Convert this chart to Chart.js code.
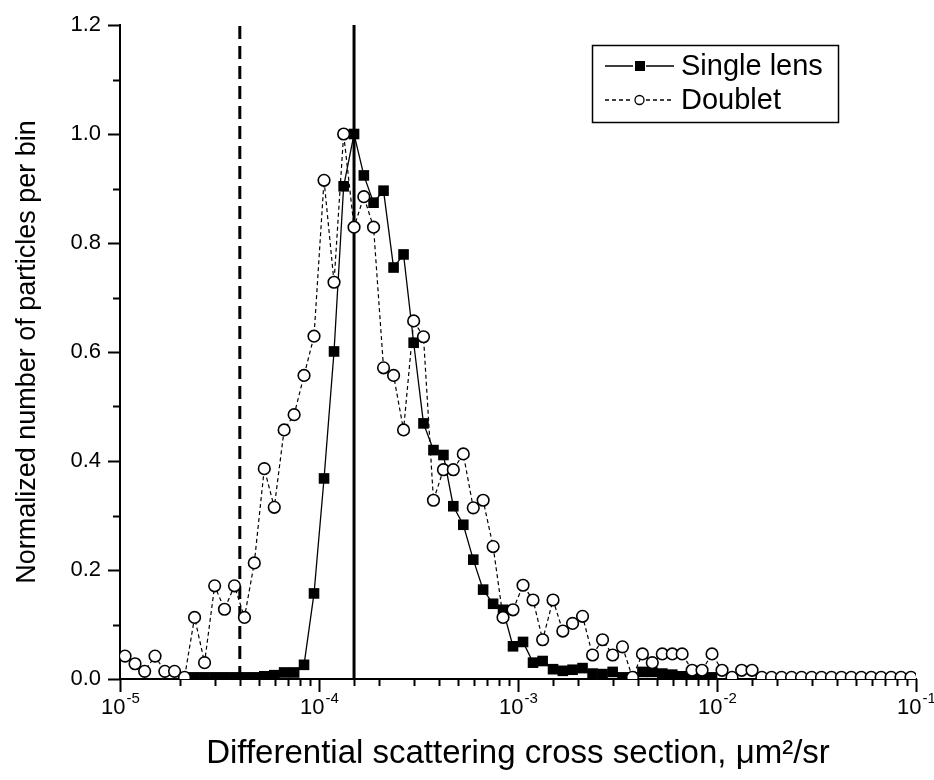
<!DOCTYPE html>
<html>
<head>
<meta charset="utf-8">
<script src="https://cdn.jsdelivr.net/npm/chart.js@4.4.1/dist/chart.umd.min.js"></script>
<style>
  html, body { margin: 0; padding: 0; background: #fff; }
  #plot { display: block; }
</style>
</head>
<body>
<canvas id="plot" width="934" height="780"></canvas>
<script>
// bin centres (um^2/sr), 20 bins per decade
var binCentres = [
    1.06e-5, 1.19e-5, 1.33e-5, 1.50e-5, 1.68e-5, 1.88e-5, 2.11e-5, 2.37e-5, 2.66e-5, 2.99e-5,
    3.35e-5, 3.76e-5, 4.22e-5, 4.73e-5, 5.31e-5, 5.96e-5, 6.68e-5, 7.50e-5, 8.41e-5, 9.44e-5,
    1.06e-4, 1.19e-4, 1.33e-4, 1.50e-4, 1.68e-4, 1.88e-4, 2.11e-4, 2.37e-4, 2.66e-4, 2.99e-4,
    3.35e-4, 3.76e-4, 4.22e-4, 4.73e-4, 5.31e-4, 5.96e-4, 6.68e-4, 7.50e-4, 8.41e-4, 9.44e-4,
    1.06e-3, 1.19e-3, 1.33e-3, 1.50e-3, 1.68e-3, 1.88e-3, 2.11e-3, 2.37e-3, 2.66e-3, 2.99e-3,
    3.35e-3, 3.76e-3, 4.22e-3, 4.73e-3, 5.31e-3, 5.96e-3, 6.68e-3, 7.50e-3, 8.41e-3, 9.44e-3,
    1.06e-2, 1.19e-2, 1.33e-2, 1.50e-2, 1.68e-2, 1.88e-2, 2.11e-2, 2.37e-2, 2.66e-2, 2.99e-2,
    3.35e-2, 3.76e-2, 4.22e-2, 4.73e-2, 5.31e-2, 5.96e-2, 6.68e-2, 7.50e-2, 8.41e-2, 9.44e-2
];

var singleLens = [
    null, null, null, null, null, null, 0.003, 0.003, 0.003, 0.003,
    0.003, 0.003, 0.003, 0.003, 0.005, 0.007, 0.012, 0.012, 0.026, 0.157,
    0.368, 0.601, 0.904, 1.000, 0.924, 0.874, 0.896, 0.755, 0.779, 0.617,
    0.469, 0.420, 0.411, 0.317, 0.283, 0.219, 0.164, 0.138, 0.127, 0.060,
    0.068, 0.030, 0.033, 0.018, 0.015, 0.017, 0.020, 0.010, 0.009, 0.013,
    0.003, 0.003, 0.013, 0.013, 0.010, 0.008, 0.005, 0.003, 0.003, 0.003,
    null, null, null, null, null, null, null, null, null, null,
    null, null, null, null, null, null, null, null, null, null
];

var doublet = [
    0.042, 0.028, 0.014, 0.042, 0.014, 0.014, 0.003, 0.113, 0.030, 0.171,
    0.128, 0.171, 0.113, 0.213, 0.386, 0.315, 0.457, 0.485, 0.557, 0.629,
    0.915, 0.728, 1.000, 0.829, 0.885, 0.829, 0.571, 0.557, 0.457, 0.657,
    0.628, 0.328, 0.384, 0.384, 0.413, 0.314, 0.328, 0.243, 0.113, 0.127,
    0.172, 0.145, 0.072, 0.145, 0.088, 0.102, 0.115, 0.044, 0.072, 0.044,
    0.059, 0.003, 0.046, 0.030, 0.046, 0.046, 0.046, 0.016, 0.016, 0.046,
    0.016, 0.003, 0.016, 0.016, 0.003, 0.003, 0.003, 0.003, 0.003, 0.003,
    0.003, 0.003, 0.003, 0.003, 0.003, 0.003, 0.003, 0.003, 0.003, 0.003
];

// cut-off positions marked by the vertical lines
var dashedCut = 4e-5;
var solidCut = 1.5e-4;

var xDecades = [1e-5, 1e-4, 1e-3, 1e-2, 1e-1];
var xExponents = ["-5", "-4", "-3", "-2", "-1"];

var FONT = "'Liberation Sans', Arial, Helvetica, sans-serif";

function toPoints(values) {
    var pts = [];
    values.forEach(function (v, i) {
        if (v !== null) pts.push({ x: binCentres[i], y: v });
    });
    return pts;
}

// white page behind the chart
var whiteBg = {
    id: "whiteBg",
    beforeDraw: function (chart) {
        var ctx = chart.ctx;
        ctx.save();
        ctx.fillStyle = "#fff";
        ctx.fillRect(0, 0, chart.width, chart.height);
        ctx.restore();
    }
};

// outward tick marks (major + minor) and the 10^n labels
var axisTicks = {
    id: "axisTicks",
    afterDraw: function (chart) {
        var ctx = chart.ctx;
        var x = chart.scales.x, y = chart.scales.y;
        var area = chart.chartArea;
        ctx.save();
        ctx.strokeStyle = "#000";
        ctx.lineWidth = 2;
        ctx.beginPath();
        x.ticks.forEach(function (t) {
            var e = Math.log10(t.value);
            var major = Math.abs(e - Math.round(e)) < 1e-6;
            var px = Math.round(x.getPixelForValue(t.value)) + 0.5;
            ctx.moveTo(px, area.bottom);
            ctx.lineTo(px, area.bottom + (major ? 13 : 7));
        });
        y.ticks.forEach(function (t) {
            var py = Math.round(y.getPixelForValue(t.value)) + 0.5;
            ctx.moveTo(area.left, py);
            ctx.lineTo(area.left - 12, py);
            if (t.value < y.max) {
                var pm = Math.round(y.getPixelForValue(t.value + 0.1)) + 0.5;
                ctx.moveTo(area.left, pm);
                ctx.lineTo(area.left - 7, pm);
            }
        });
        ctx.stroke();

        ctx.fillStyle = "#000";
        ctx.textBaseline = "alphabetic";
        ctx.textAlign = "left";
        xDecades.forEach(function (v, i) {
            var px = x.getPixelForValue(v);
            ctx.font = "22px " + FONT;
            var wBase = ctx.measureText("10").width;
            ctx.font = "15px " + FONT;
            var wExp = ctx.measureText(xExponents[i]).width;
            var x0 = px - (wBase + wExp) / 2;
            ctx.font = "22px " + FONT;
            ctx.fillText("10", x0, area.bottom + 35);
            ctx.font = "15px " + FONT;
            ctx.fillText(xExponents[i], x0 + wBase + 1, area.bottom + 24);
        });
        ctx.restore();
    }
};

// boxed legend with line + marker samples
var boxLegend = {
    id: "boxLegend",
    afterDraw: function (chart) {
        var ctx = chart.ctx;
        var sets = chart.data.datasets;
        ctx.save();
        ctx.strokeStyle = "#000";
        ctx.lineWidth = 1.5;
        ctx.strokeRect(592.5, 45.5, 246, 77);

        var rows = [
            { ds: sets[1], y: 66, dash: [], square: true },
            { ds: sets[0], y: 100, dash: [4, 3], square: false }
        ];
        rows.forEach(function (r) {
            ctx.lineWidth = 1.3;
            ctx.setLineDash(r.dash);
            ctx.beginPath();
            ctx.moveTo(605, r.y);
            ctx.lineTo(633, r.y);
            ctx.moveTo(646, r.y);
            ctx.lineTo(674, r.y);
            ctx.stroke();
            ctx.setLineDash([]);
            if (r.square) {
                ctx.fillStyle = "#000";
                ctx.fillRect(635, r.y - 5, 10, 10);
            } else {
                ctx.fillStyle = "#fff";
                ctx.beginPath();
                ctx.arc(639.5, r.y, 4.5, 0, Math.PI * 2);
                ctx.fill();
                ctx.stroke();
            }
            ctx.fillStyle = "#000";
            ctx.font = "29px " + FONT;
            ctx.textAlign = "left";
            ctx.textBaseline = "middle";
            ctx.fillText(r.ds.label, 681, r.y + 1);
        });
        ctx.restore();
    }
};

new Chart(document.getElementById("plot"), {
    type: "scatter",
    data: {
        datasets: [
            {
                label: "Doublet",
                data: toPoints(doublet),
                showLine: true,
                borderColor: "#000",
                borderWidth: 1.2,
                borderDash: [4, 3],
                pointStyle: "circle",
                pointRadius: 5.8,
                pointBorderWidth: 1.6,
                pointBackgroundColor: "#fff",
                pointBorderColor: "#000",
                order: 1
            },
            {
                label: "Single lens",
                data: toPoints(singleLens),
                showLine: true,
                borderColor: "#000",
                borderWidth: 1.3,
                pointStyle: "rect",
                pointRadius: 7.5,
                pointBorderWidth: 0,
                pointBackgroundColor: "#000",
                pointBorderColor: "#000",
                order: 2
            },
            {
                label: "cut-off (dashed)",
                data: [{ x: dashedCut, y: 0 }, { x: dashedCut, y: 1.2 }],
                showLine: true,
                borderColor: "#000",
                borderWidth: 3,
                borderDash: [13, 7],
                pointRadius: 0,
                order: 3
            },
            {
                label: "cut-off (solid)",
                data: [{ x: solidCut, y: 0 }, { x: solidCut, y: 1.2 }],
                showLine: true,
                borderColor: "#000",
                borderWidth: 3,
                pointRadius: 0,
                order: 3
            }
        ]
    },
    options: {
        responsive: false,
        animation: false,
        devicePixelRatio: 1,
        layout: { padding: { left: 11, top: 25, right: 18, bottom: 6 } },
        plugins: {
            legend: { display: false },
            tooltip: { enabled: false }
        },
        scales: {
            x: {
                type: "logarithmic",
                min: 1e-5,
                max: 1e-1,
                grid: { display: false },
                border: { display: true, color: "#000", width: 2 },
                ticks: { display: false },
                title: {
                    display: true,
                    text: "Differential scattering cross section, \u03bcm\u00b2/sr",
                    color: "#000",
                    font: { family: FONT, size: 33 },
                    padding: { top: 0, bottom: 0 }
                },
                afterFit: function (scale) { scale.height = 95; }
            },
            y: {
                min: 0,
                max: 1.2,
                grid: { display: false },
                border: { display: true, color: "#000", width: 2 },
                ticks: {
                    stepSize: 0.2,
                    padding: 11,
                    color: "#000",
                    font: { family: FONT, size: 22 },
                    callback: function (v) { return v.toFixed(1); }
                },
                title: {
                    display: true,
                    text: "Normalized number of particles per bin",
                    color: "#000",
                    font: { family: FONT, size: 27 },
                    padding: { top: 0, bottom: 0 }
                },
                afterFit: function (scale) { scale.width = 109; }
            }
        }
    },
    plugins: [whiteBg, axisTicks, boxLegend]
});
</script>
</body>
</html>
